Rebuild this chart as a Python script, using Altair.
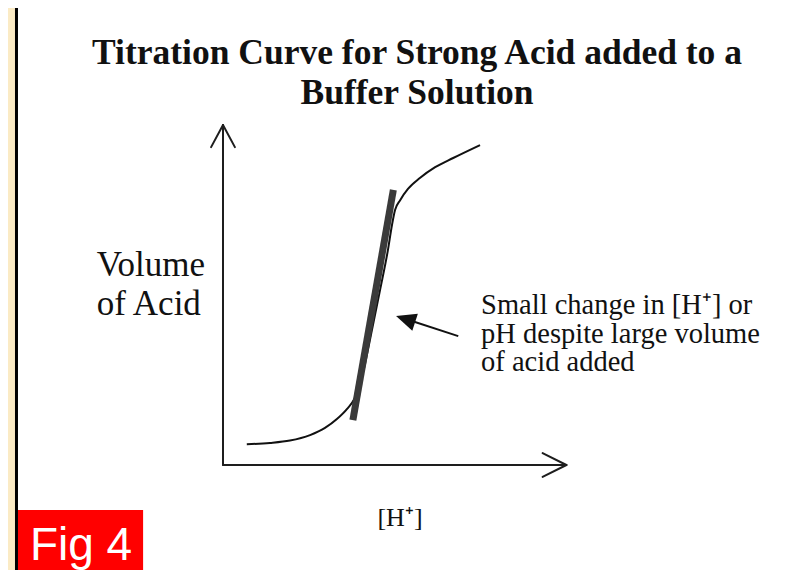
import altair as alt
import pandas as pd

# ---- data (arbitrary units: [H+] on x, volume of acid on y) ----
curve_h = [0.70, 1.38, 1.97, 2.56, 3.00, 3.35, 3.65, 3.88, 4.03, 4.15, 4.38,
           4.62, 4.85, 4.97, 5.06, 5.21, 5.44, 5.79, 6.24, 6.77, 7.56]
curve_vol = [0.61, 0.65, 0.72, 0.88, 1.09, 1.35, 1.65, 1.97, 2.35, 2.85, 3.97,
             5.15, 6.32, 7.06, 7.50, 7.79, 8.12, 8.44, 8.76, 9.03, 9.41]

buffer_h = [3.82, 5.01]
buffer_vol = [1.32, 8.09]

title_lines = ["Titration Curve for Strong Acid added to a", "Buffer Solution"]
ylabel_lines = ["Volume", "of Acid"]
note_lines = ["Small change in [H\u207a] or", "pH despite large volume", "of acid added"]
xlabel = "[H\u207a]"
fig_label = "Fig 4"

# axis segments: (x, y, x2, y2)
axis_x = [0.0, 0.0, 0.0, 0.0, 10.1, 10.1]
axis_y = [0.0, 0.0, 10.0, 10.0, 0.0, 0.0]
axis_x2 = [0.0, 10.1, -0.35, 0.35, 9.4, 9.4]
axis_y2 = [10.0, 0.0, 9.35, 9.35, 0.35, -0.35]

# annotation arrow: tail -> tip
arrow_tail = (6.92, 3.79)
arrow_tip = (5.09, 4.38)
arrow_shaft_end = (5.51, 4.25)

XDOM = [-6.3235, 17.0882]
YDOM = [-3.0882, 13.4412]
xs = alt.Scale(domain=XDOM, nice=False, zero=False)
ys = alt.Scale(domain=YDOM, nice=False, zero=False)

def X(field="x"):
    return alt.X(f"{field}:Q", scale=xs, axis=None)

def Y(field="y"):
    return alt.Y(f"{field}:Q", scale=ys, axis=None)

def anchor(x, y):
    return pd.DataFrame({"x": [x], "y": [y]})

# panel and fig box
panel = alt.Chart(pd.DataFrame({"x": [-6.074], "x2": [17.6], "y": [-3.6], "y2": [13.7]})).mark_rect(
    fill="white", stroke="black", strokeWidth=3
).encode(x=X(), x2="x2:Q", y=Y(), y2="y2:Q")

figbox = alt.Chart(pd.DataFrame({"x": [-6.03], "x2": [-2.35], "y": [-1.32], "y2": [-3.6]})).mark_rect(
    fill="#ff0000"
).encode(x=X(), x2="x2:Q", y=Y(), y2="y2:Q")

figtext = alt.Chart(anchor(-5.68, -2.79)).mark_text(
    text=fig_label, font="Liberation Sans", fontSize=46, color="white",
    align="left", baseline="alphabetic"
).encode(x=X(), y=Y())

axes = alt.Chart(pd.DataFrame({"x": axis_x, "y": axis_y, "x2": axis_x2, "y2": axis_y2})).mark_rule(
    color="#1e1e1e", strokeWidth=2, strokeCap="round"
).encode(x=X(), y=Y(), x2="x2:Q", y2="y2:Q")

curve = alt.Chart(pd.DataFrame({"x": curve_h, "y": curve_vol})).mark_line(
    color="#111111", strokeWidth=2, interpolate="monotone"
).encode(x=X(), y=Y())

buffer = alt.Chart(pd.DataFrame({"x": [buffer_h[0]], "y": [buffer_vol[0]],
                                 "x2": [buffer_h[1]], "y2": [buffer_vol[1]]})).mark_rule(
    color="#3a3a3a", strokeWidth=7
).encode(x=X(), y=Y(), x2="x2:Q", y2="y2:Q")

shaft = alt.Chart(pd.DataFrame({"x": [arrow_tail[0]], "y": [arrow_tail[1]],
                                "x2": [arrow_shaft_end[0]], "y2": [arrow_shaft_end[1]]})).mark_rule(
    color="#111111", strokeWidth=2
).encode(x=X(), y=Y(), x2="x2:Q", y2="y2:Q")

head = alt.Chart(anchor(*arrow_tip)).mark_point(
    shape="M0,0L1,-0.45L1,0.45Z", filled=True, size=1600, angle=18, color="#111111", opacity=1
).encode(x=X(), y=Y())

title = alt.Chart(anchor(5.706, 11.79)).mark_text(
    text=title_lines, lineHeight=40,
    font="Liberation Serif", fontSize=35.5, fontWeight="bold", color="#111111",
    align="center", baseline="alphabetic"
).encode(x=X(), y=Y())

ylab = alt.Chart(anchor(-3.71, 5.57)).mark_text(
    text=ylabel_lines, lineHeight=39,
    font="Liberation Serif", fontSize=35, color="#111111", align="left", baseline="alphabetic"
).encode(x=X(), y=Y())

note = alt.Chart(anchor(7.59, 4.44)).mark_text(
    text=note_lines, lineHeight=28.5,
    font="Liberation Serif", fontSize=28.5, color="#111111", align="left", baseline="alphabetic"
).encode(x=X(), y=Y())

xlab = alt.Chart(anchor(5.206, -1.79)).mark_text(
    text=xlabel, font="Liberation Serif", fontSize=26, color="#111111",
    align="center", baseline="alphabetic"
).encode(x=X(), y=Y())

chart = alt.layer(
    panel, figbox, figtext, axes, curve, buffer, shaft, head, title, ylab, note, xlab
).properties(
    width=796, height=562,
    autosize=alt.AutoSizeParams(type="none"),
    padding=0,
    background="#fbebc5",
).configure_view(strokeWidth=0)

chart.save("out.html", embed_options={"renderer": "svg", "actions": False})
